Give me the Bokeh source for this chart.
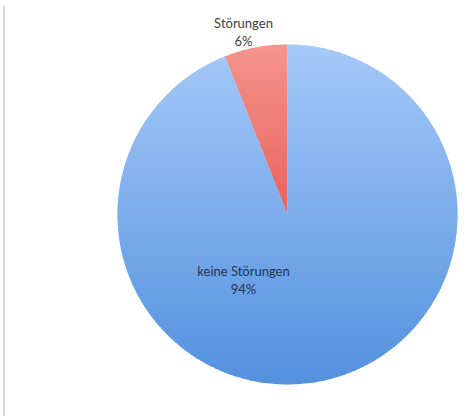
import math
import numpy as np
from bokeh.plotting import figure
from bokeh.core.properties import value
from bokeh.embed import file_html
from bokeh.resources import INLINE

categories = ["Störungen", "keine Störungen"]
shares = [6, 94]
# vertical gradient of each slice: (top colour, bottom colour)
top_colors = ["#f5948d", "#a5c9f8"]
bottom_colors = ["#dc3129", "#5390de"]
label_colors = ["#404040", "#1e3350"]

W, H = 471, 416
cx, cy, r = 287, H - 214, 170


def hex2rgb(h):
    h = h.lstrip("#")
    return np.array([int(h[i:i + 2], 16) for i in (0, 2, 4)], dtype=float)


def rgb2hex(c):
    return "#%02x%02x%02x" % tuple(int(round(v)) for v in c)


def clip(poly, ylo, yhi):
    def clip_edge(pts, inside, inter):
        out = []
        n = len(pts)
        for i in range(n):
            cur, prev = pts[i], pts[i - 1]
            if inside(cur):
                if not inside(prev):
                    out.append(inter(prev, cur))
                out.append(cur)
            elif inside(prev):
                out.append(inter(prev, cur))
        return out

    def mk_inter(yv):
        def f(p, q):
            t = (yv - p[1]) / (q[1] - p[1])
            return (p[0] + t * (q[0] - p[0]), yv)
        return f

    pts = clip_edge(poly, lambda p: p[1] >= ylo, mk_inter(ylo))
    if not pts:
        return pts
    pts = clip_edge(pts, lambda p: p[1] <= yhi, mk_inter(yhi))
    return pts


p = figure(width=W, height=H, x_range=(0, W), y_range=(0, H),
           output_backend="svg", toolbar_location=None, min_border=0)
p.axis.visible = False
p.grid.visible = False
p.outline_line_color = None
p.background_fill_color = "white"
p.border_fill_color = "white"

# thin frame line on the left
p.segment(x0=[3.5], y0=[0], x1=[3.5], y1=[H - 5], line_color="#d9d9d9", line_width=2)

total = sum(shares)
a = math.pi / 2
band = 2.0
xs_all, ys_all, cols_all = [], [], []
for s, ct, cb in zip(shares, top_colors, bottom_colors):
    a0 = a
    a1 = a + s / total * 2 * math.pi
    a = a1
    n = max(8, int(400 * s / total))
    angs = np.linspace(a0, a1, n)
    poly = [(cx, cy)] + [(cx + r * math.cos(t), cy + r * math.sin(t)) for t in angs]
    rt, rb = hex2rgb(ct), hex2rgb(cb)
    y = cy - r
    while y < cy + r:
        pts = clip(poly, y - 0.4, y + band + 0.4)
        if len(pts) >= 3:
            f = 1 - ((y + band / 2) - (cy - r)) / (2 * r)
            col = rgb2hex(rt + (rb - rt) * f)
            xs_all.append([q[0] for q in pts])
            ys_all.append([q[1] for q in pts])
            cols_all.append(col)
        y += band

p.patches(xs=xs_all, ys=ys_all, fill_color=cols_all, line_color=None)

lab_x = [243, 243]
lab_y = [H - 22, H - 270]
lab_y2 = [H - 40, H - 288]
pct = [f"{s}%" for s in shares]
p.text(x=lab_x, y=lab_y, text=categories, text_align="center", text_baseline="middle",
       text_font=value("Lato"), text_font_size="13px", text_color=label_colors)
p.text(x=lab_x, y=lab_y2, text=pct, text_align="center", text_baseline="middle",
       text_font=value("Lato"), text_font_size="13px", text_color=label_colors)

open("out.html", "w").write(file_html(p, INLINE))
